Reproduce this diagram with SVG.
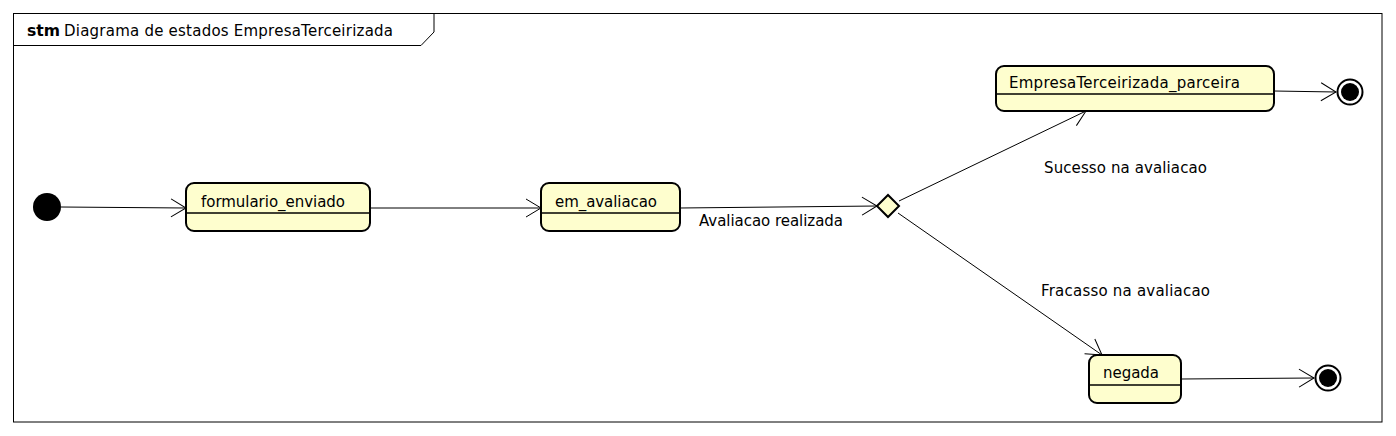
<svg xmlns="http://www.w3.org/2000/svg" width="1396" height="436" viewBox="0 0 1396 436">
<style>
text{font-family:"DejaVu Sans","Liberation Sans",sans-serif;font-size:15px;fill:#000}
.st{fill:#FEFECE;stroke:#000;stroke-width:2}
.div{stroke:#000;stroke-width:1.5}
.c{stroke:#000;stroke-width:1;fill:none}
</style>
<defs>
<marker id="ah" markerUnits="userSpaceOnUse" markerWidth="18" markerHeight="22" viewBox="0 0 18 22" refX="16" refY="11" orient="auto">
<path d="M1,2 L16,11 L1,20" fill="none" stroke="#000" stroke-width="1"/>
</marker>
</defs>
<rect width="1396" height="436" fill="#fff"/>
<g id="frame">
<rect x="13.5" y="13.5" width="1368.5" height="408.5" fill="none" stroke="#000" stroke-width="1"/>
<path d="M13.5,45.5 L421,45.5 L434,32 L434,13.5" fill="none" stroke="#000" stroke-width="1"/>
<text x="27" y="36" font-weight="bold" textLength="33" lengthAdjust="spacingAndGlyphs">stm</text>
<text x="64" y="36" textLength="329" lengthAdjust="spacing">Diagrama de estados EmpresaTerceirizada</text>
</g>
<g id="connectors">
<line class="c" x1="61" y1="207" x2="186" y2="208" marker-end="url(#ah)"/>
<line class="c" x1="370" y1="208" x2="541" y2="208" marker-end="url(#ah)"/>
<line class="c" x1="680" y1="208" x2="877" y2="206" marker-end="url(#ah)"/>
<line class="c" x1="899" y1="201" x2="1086" y2="111" marker-end="url(#ah)"/>
<line class="c" x1="898" y1="213" x2="1102" y2="355" marker-end="url(#ah)"/>
<line class="c" x1="1274" y1="91" x2="1336" y2="92" marker-end="url(#ah)"/>
<line class="c" x1="1181" y1="379" x2="1314" y2="378" marker-end="url(#ah)"/>
<text x="699" y="226" textLength="144" lengthAdjust="spacing">Avaliacao realizada</text>
<text x="1044" y="173" textLength="163" lengthAdjust="spacing">Sucesso na avaliacao</text>
<text x="1041" y="296" textLength="169" lengthAdjust="spacing">Fracasso na avaliacao</text>
</g>
<g id="initial">
<circle cx="47" cy="207" r="14" fill="#000"/>
</g>
<g id="formulario_enviado">
<rect class="st" x="186" y="183" width="184" height="48" rx="8"/>
<line class="div" x1="186" y1="213" x2="370" y2="213"/>
<text x="201" y="207" textLength="144" lengthAdjust="spacing">formulario_enviado</text>
</g>
<g id="em_avaliacao">
<rect class="st" x="541" y="183" width="139" height="48" rx="8"/>
<line class="div" x1="541" y1="213" x2="680" y2="213"/>
<text x="555" y="207" textLength="102" lengthAdjust="spacing">em_avaliacao</text>
</g>
<g id="choice">
<polygon points="877,206 888,195 899,206 888,217" fill="#FEFECE" stroke="#000" stroke-width="2"/>
</g>
<g id="EmpresaTerceirizada_parceira">
<rect class="st" x="996" y="66" width="278" height="45" rx="8"/>
<line class="div" x1="996" y1="94" x2="1274" y2="94"/>
<text x="1009" y="88" textLength="231" lengthAdjust="spacing">EmpresaTerceirizada_parceira</text>
</g>
<g id="negada">
<rect class="st" x="1089" y="355" width="92" height="48" rx="8"/>
<line class="div" x1="1089" y1="385" x2="1181" y2="385"/>
<text x="1103" y="378" textLength="56" lengthAdjust="spacing">negada</text>
</g>
<g id="final1">
<circle cx="1350" cy="92" r="12.5" fill="#fff" stroke="#000" stroke-width="2"/>
<circle cx="1350" cy="92" r="9" fill="#000"/>
</g>
<g id="final2">
<circle cx="1328" cy="378" r="12.5" fill="#fff" stroke="#000" stroke-width="2"/>
<circle cx="1328" cy="378" r="9" fill="#000"/>
</g>
</svg>
